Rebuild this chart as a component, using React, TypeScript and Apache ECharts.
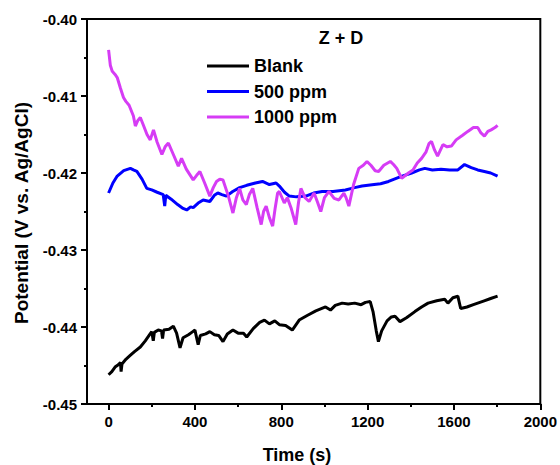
import React, { useEffect, useRef } from "react";
import * as echarts from "echarts";

const seriesNames = ["Blank", "500 ppm", "1000 ppm"];
const seriesColors = ["#000000", "#0000ff", "#d63cf5"];

const blank: [number, number][] = [
  [0, -0.4462], [15, -0.4458], [30, -0.4452], [45, -0.4449], [55, -0.4446], [58, -0.4458], [62, -0.4448],
  [80, -0.4442], [100, -0.4437], [120, -0.4432], [147, -0.4426], [170, -0.4418], [190, -0.441], [200, -0.4406],
  [207, -0.4418], [212, -0.4407], [230, -0.4404], [245, -0.4405], [250, -0.4415], [255, -0.4404], [280, -0.4403],
  [300, -0.4399], [315, -0.4408], [331, -0.4427], [345, -0.4414], [370, -0.441], [390, -0.4406], [400, -0.4404],
  [415, -0.4423], [425, -0.4411], [450, -0.4409], [469, -0.4406], [490, -0.441], [510, -0.4411], [530, -0.4419],
  [550, -0.4409], [576, -0.4404], [600, -0.4408], [625, -0.4408], [640, -0.4413], [670, -0.4402], [700, -0.4394],
  [722, -0.4391], [745, -0.4396], [770, -0.4392], [791, -0.4397], [820, -0.4398], [851, -0.4404], [883, -0.4391],
  [920, -0.4385], [960, -0.4379], [1005, -0.4374], [1028, -0.4378], [1050, -0.4372], [1082, -0.4369],
  [1110, -0.437], [1140, -0.4369], [1170, -0.4371], [1190, -0.4368], [1212, -0.4367], [1225, -0.438],
  [1240, -0.4405], [1250, -0.4419], [1265, -0.4405], [1290, -0.4392], [1310, -0.4387], [1327, -0.4386],
  [1350, -0.4393], [1380, -0.4388], [1419, -0.438], [1450, -0.4374], [1480, -0.4369], [1520, -0.4366],
  [1557, -0.4364], [1572, -0.4369], [1595, -0.4362], [1618, -0.436], [1631, -0.4376], [1660, -0.4374],
  [1690, -0.4371], [1710, -0.4369], [1740, -0.4366], [1770, -0.4363], [1802, -0.436],
];

const ppm500: [number, number][] = [
  [0, -0.4226], [20, -0.4213], [40, -0.4204], [70, -0.4197], [101, -0.4194], [115, -0.4196], [131, -0.4198],
  [155, -0.4208], [177, -0.422], [200, -0.4222], [225, -0.4225], [253, -0.4228], [260, -0.4243], [265, -0.4229],
  [290, -0.4234], [320, -0.4241], [345, -0.4246], [362, -0.4248], [380, -0.4244], [392, -0.4245], [415, -0.4239],
  [438, -0.4235], [469, -0.4237], [490, -0.4229], [506, -0.4226], [525, -0.4228], [546, -0.423], [575, -0.4224],
  [607, -0.4219], [640, -0.4216], [680, -0.4213], [713, -0.4211], [745, -0.4215], [776, -0.4213], [791, -0.4217],
  [815, -0.4225], [837, -0.423], [870, -0.4231], [914, -0.423], [950, -0.4226], [989, -0.4224], [1040, -0.4224],
  [1097, -0.4222], [1140, -0.4219], [1174, -0.4217], [1230, -0.4215], [1260, -0.4214], [1297, -0.4211],
  [1350, -0.4205], [1404, -0.42], [1440, -0.4196], [1465, -0.4194], [1500, -0.4196], [1540, -0.4195],
  [1580, -0.4196], [1618, -0.4196], [1649, -0.4189], [1680, -0.4193], [1710, -0.4196], [1741, -0.4198],
  [1770, -0.42], [1802, -0.4204],
];

const ppm1000: [number, number][] = [
  [0, -0.404], [8, -0.406], [17, -0.4068], [30, -0.4072], [40, -0.4076], [55, -0.409], [69, -0.4102],
  [80, -0.4107], [95, -0.4112], [115, -0.4126], [124, -0.4139], [135, -0.4132], [147, -0.4128], [160, -0.4137],
  [178, -0.415], [193, -0.4157], [208, -0.4144], [225, -0.416], [247, -0.4176], [262, -0.4166], [277, -0.4161],
  [300, -0.4176], [323, -0.4191], [338, -0.4181], [360, -0.4195], [392, -0.4209], [408, -0.4203], [423, -0.4198],
  [445, -0.4213], [469, -0.423], [485, -0.4219], [500, -0.4211], [515, -0.4208], [530, -0.4209], [555, -0.423],
  [576, -0.4252], [592, -0.4232], [607, -0.422], [622, -0.4235], [638, -0.4241], [652, -0.4228], [668, -0.422],
  [688, -0.4245], [707, -0.4267], [718, -0.425], [730, -0.4243], [745, -0.4258], [760, -0.4269], [772, -0.4245],
  [783, -0.4226], [791, -0.4224], [814, -0.4239], [828, -0.4232], [845, -0.4245], [867, -0.4267], [880, -0.4238],
  [891, -0.422], [910, -0.4232], [929, -0.4237], [952, -0.4226], [968, -0.4238], [983, -0.425], [1000, -0.4232],
  [1021, -0.4224], [1045, -0.4233], [1067, -0.4235], [1090, -0.4226], [1100, -0.4232], [1113, -0.4243],
  [1135, -0.4215], [1159, -0.4194], [1180, -0.419], [1197, -0.4185], [1215, -0.419], [1235, -0.4197],
  [1251, -0.4198], [1275, -0.419], [1305, -0.4185], [1320, -0.4189], [1335, -0.4194], [1358, -0.4207],
  [1389, -0.42], [1410, -0.4196], [1430, -0.4187], [1450, -0.4181], [1470, -0.4173], [1484, -0.4162],
  [1496, -0.4159], [1510, -0.417], [1524, -0.4178], [1549, -0.4163], [1568, -0.4166], [1588, -0.4165],
  [1610, -0.4157], [1640, -0.4151], [1664, -0.4146], [1690, -0.4141], [1710, -0.4141], [1725, -0.4148],
  [1741, -0.4152], [1757, -0.4146], [1772, -0.4144], [1790, -0.4141], [1802, -0.4138],
];

const xMajorTicks = [0, 400, 800, 1200, 1600, 2000];
const xMinorTicks = [200, 600, 1000, 1400, 1800];

const FONT = "'Liberation Sans', Arial, sans-serif";

export default function App() {
  const ref = useRef<HTMLDivElement>(null);
  useEffect(() => {
    if (!ref.current) return;
    const chart = echarts.init(ref.current, undefined, { renderer: "svg" });
    const datasets = [blank, ppm500, ppm1000];
    chart.setOption({
      animation: false,
      backgroundColor: "#ffffff",
      grid: {
        left: 87,
        right: 17,
        top: 19,
        bottom: 61,
        show: true,
        borderColor: "#000",
        borderWidth: 2,
        backgroundColor: "transparent",
      },
      legend: {
        orient: "vertical",
        left: 207,
        top: 57,
        padding: 0,
        itemWidth: 42,
        itemHeight: 3,
        itemGap: 7.5,
        icon: "rect",
        textStyle: { fontFamily: FONT, fontWeight: "bold", fontSize: 18, color: "#000", lineHeight: 18 },
        data: seriesNames,
      },
      xAxis: [
        {
          type: "value",
          min: -100,
          max: 2000,
          axisLine: { show: true, onZero: false, lineStyle: { color: "#000", width: 2 } },
          axisTick: { show: true, inside: false, length: 6, customValues: xMajorTicks, lineStyle: { color: "#000", width: 2 } },
          axisLabel: {
            customValues: xMajorTicks,
            margin: 10,
            fontFamily: FONT,
            fontWeight: "bold",
            fontSize: 15,
            color: "#000",
            formatter: (v: number) => String(v),
          },
          splitLine: { show: false },
        },
        {
          type: "value",
          min: -100,
          max: 2000,
          position: "bottom",
          axisLine: { show: false, onZero: false },
          axisTick: { show: true, inside: false, length: 3, customValues: xMinorTicks, lineStyle: { color: "#000", width: 2 } },
          axisLabel: { show: false },
          splitLine: { show: false },
        },
      ],
      yAxis: {
        type: "value",
        min: -0.45,
        max: -0.4,
        interval: 0.01,
        axisLine: { show: true, onZero: false, lineStyle: { color: "#000", width: 2 } },
        axisTick: { show: true, inside: false, length: 6, lineStyle: { color: "#000", width: 2 } },
        minorTick: { show: true, splitNumber: 2, length: 3, lineStyle: { color: "#000", width: 2 } },
        axisLabel: {
          margin: 10,
          fontFamily: FONT,
          fontWeight: "bold",
          fontSize: 15,
          color: "#000",
          formatter: (v: number) => v.toFixed(2),
        },
        splitLine: { show: false },
        minorSplitLine: { show: false },
      },
      series: datasets.map((d, i) => ({
        name: seriesNames[i],
        type: "line",
        xAxisIndex: 0,
        data: d,
        showSymbol: false,
        symbol: "none",
        lineStyle: { color: seriesColors[i], width: 3 },
        itemStyle: { color: seriesColors[i] },
        z: 2 + i,
      })),
      graphic: [
        {
          type: "text",
          x: 341,
          y: 38,
          style: {
            text: "Z + D",
            fontFamily: FONT,
            fontWeight: "bold",
            fontSize: 18,
            fill: "#000",
            align: "center",
            verticalAlign: "middle",
          },
        },
        {
          type: "text",
          x: 297,
          y: 455,
          style: {
            text: "Time (s)",
            fontFamily: FONT,
            fontWeight: "bold",
            fontSize: 18,
            fill: "#000",
            align: "center",
            verticalAlign: "middle",
          },
        },
        {
          type: "text",
          x: 21,
          y: 213,
          rotation: Math.PI / 2,
          style: {
            text: "Potential (V vs. Ag/AgCl)",
            fontFamily: FONT,
            fontWeight: "bold",
            fontSize: 19,
            fill: "#000",
            align: "center",
            verticalAlign: "middle",
          },
        },
      ],
    });
    return () => chart.dispose();
  }, []);
  return <div ref={ref} style={{ position: "fixed", left: 0, top: 0, width: 560, height: 465 }} />;
}
